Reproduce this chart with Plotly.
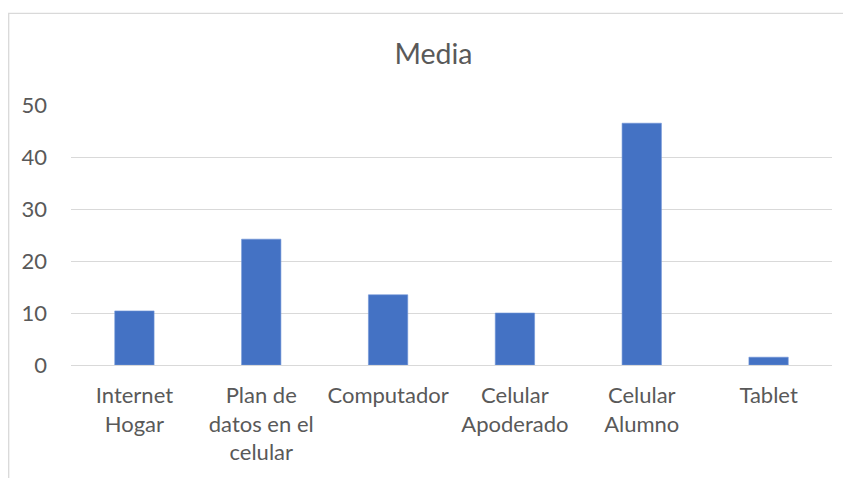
import plotly.graph_objects as go

categorias = ["Internet<br>Hogar", "Plan de<br>datos en el<br>celular", "Computador",
              "Celular<br>Apoderado", "Celular<br>Alumno", "Tablet"]
media = [10.4, 24.2, 13.5, 10.0, 46.5, 1.5]
y_ticks = [0, 10, 20, 30, 40, 50]

# la página deja 8px de margen en el body, así que la figura es un poco más chica
W, H = 843, 470
L, T = 63, 96.7
PW, PH = 761, 260

fig = go.Figure(
    go.Bar(
        x=categorias,
        y=media,
        marker=dict(color="#4472C4", line=dict(color="#6f93d6", width=0.6)),
    )
)

fig.update_layout(
    width=W,
    height=H,
    paper_bgcolor="white",
    plot_bgcolor="white",
    margin=dict(l=L, r=W - L - PW, t=T, b=H - T - PH, autoexpand=False),
    bargap=0.69,
    font=dict(family="Lato", color="#595959", size=22),
    title=dict(
        text="Media",
        x=425.5 / W,
        xref="container",
        xanchor="center",
        y=1 - 46 / H,
        yanchor="middle",
        font=dict(family="Lato", size=28.5, color="#595959"),
    ),
    xaxis=dict(
        showgrid=False,
        showline=False,
        ticks="",
        ticklabelstandoff=15,
    ),
    yaxis=dict(
        range=[0, 50],
        tickvals=y_ticks,
        showgrid=True,
        gridcolor="#D9D9D9",
        gridwidth=1.3,
        zeroline=True,
        zerolinecolor="#D9D9D9",
        zerolinewidth=1.3,
        showline=False,
        ticks="",
        ticklabelstandoff=23,
    ),
    showlegend=False,
)

# marco del gráfico (estilo Excel)
fig.add_shape(
    type="rect",
    xref="paper", yref="paper",
    x0=(0.7 - L) / PW, x1=(W + 20 - L) / PW,
    y0=-(H + 20 - T - PH) / PH, y1=(T + PH - 5) / PH,
    line=dict(color="#D9D9D9", width=1.3),
    fillcolor="rgba(0,0,0,0)",
    layer="below",
)

fig.write_html("out.html")
